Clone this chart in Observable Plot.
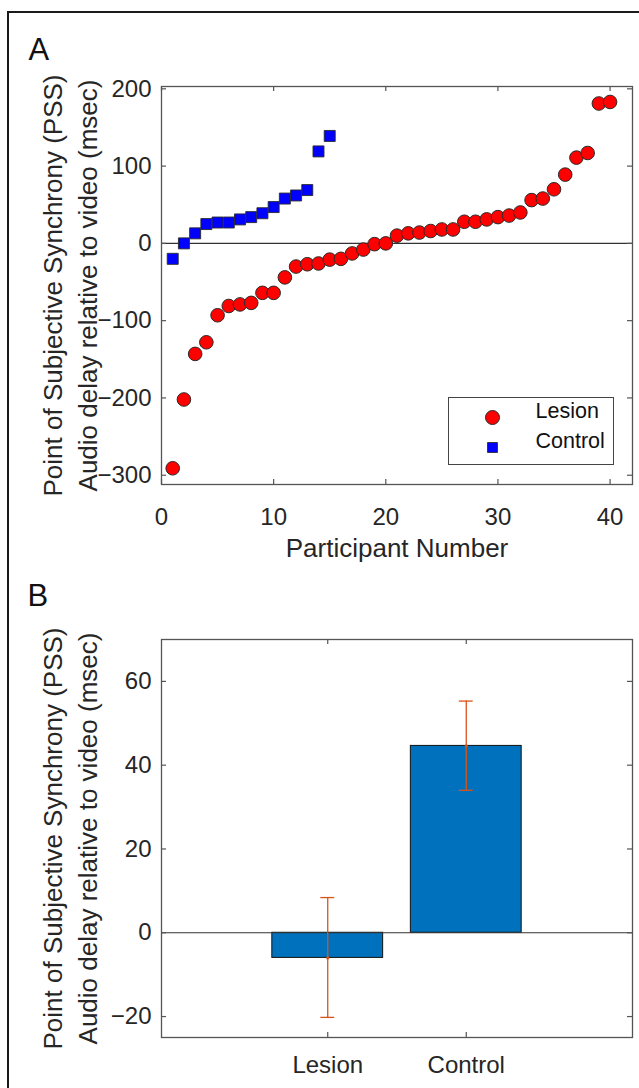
<!DOCTYPE html>
<html><head><meta charset="utf-8">
<script src="https://cdn.jsdelivr.net/npm/d3@7"></script>
<script src="https://cdn.jsdelivr.net/npm/@observablehq/plot@0.6"></script>
<style>
body{margin:0;background:#fff;width:639px;height:1088px;overflow:hidden;position:relative;font-family:"Liberation Sans",Arial,sans-serif;}
#border{position:absolute;left:7px;top:11px;width:700px;height:1200px;border-top:2px solid #1a1a1a;border-left:2px solid #1a1a1a;}
#a{position:absolute;left:0;top:0}
#b{position:absolute;left:0;top:590px}
svg{overflow:visible}
</style></head><body>
<div id="border"></div>
<div id="a"></div><div id="b"></div>
<script>
// ---- data ----
const lesionPSS = [-291, -202, -143, -128, -93, -81, -79, -77, -64, -64,
  -44, -30, -27, -26, -21, -20, -13, -8, -1, 0,
  10, 13, 14, 16, 18, 18, 28, 28, 31, 34,
  36, 40, 56, 58, 70, 89, 111, 117, 181, 183];
const controlPSS = [-20, 0, 13, 25, 27, 27, 31, 34, 39, 47, 58, 62, 69, 119, 139];
const xTicksA = [0, 10, 20, 30, 40];
const yTicksA = [-300, -200, -100, 0, 100, 200];
const seriesNames = ["Lesion", "Control"];
const groups = ["Lesion", "Control"];
const groupMeans = [-6.0, 44.6];
const groupErrLow = [-20.2, 34.0];
const groupErrHigh = [8.4, 55.3];
const yTicksB = [-20, 0, 20, 40, 60];
const yLabelLines = ["Point of Subjective Synchrony (PSS)", "Audio delay relative to video (msec)"];
const xLabelA = "Participant Number";
const panelLetters = ["A", "B"];

// ---- styling ----
const W = 639;
const axisColor = "#555";
const textColor = "#262626";
const tickLen = 5;
const mL = 161, mR = W - 632;
const font = "'Liberation Sans', Arial, Helvetica, sans-serif";

function boxTicks(xt, yt, fh, fw) {
  const s = {stroke: axisColor, strokeWidth: 1.2};
  return [
    Plot.ruleX(xt, {x: d => d, insetTop: fh - tickLen, ...s}),
    Plot.ruleX(xt, {x: d => d, insetBottom: fh - tickLen, ...s}),
    Plot.ruleY(yt, {y: d => d, insetRight: fw - tickLen, ...s}),
    Plot.ruleY(yt, {y: d => d, insetLeft: fw - tickLen, ...s})
  ];
}
function yLabels() {
  return [
    Plot.text([yLabelLines[0]], {text: d => d, frameAnchor: "left", textAnchor: "middle", rotate: -90, dx: 53 - mL, fontSize: 26, fill: textColor}),
    Plot.text([yLabelLines[1]], {text: d => d, frameAnchor: "left", textAnchor: "middle", rotate: -90, dx: 88 - mL, fontSize: 26, fill: textColor})
  ];
}

// ---- Panel A ----
const lesion = lesionPSS.map((v, i) => ({n: i + 1, v}));
const control = controlPSS.map((v, i) => ({n: i + 1, v}));
const HA = 590, mTA = 86, mBA = HA - 484;
const fhA = HA - mTA - mBA, fw = W - mL - mR;

const plotA = Plot.plot({
  width: W, height: HA,
  marginLeft: mL, marginRight: mR, marginTop: mTA, marginBottom: mBA,
  style: {fontFamily: font, fontSize: "24px", color: textColor, background: "transparent", overflow: "visible"},
  x: {domain: [0, 42]},
  y: {domain: [-312, 203]},
  marks: [
    Plot.ruleY([0], {stroke: "#333", strokeWidth: 1.1}),
    Plot.frame({stroke: axisColor, strokeWidth: 1.3}),
    ...boxTicks(xTicksA, yTicksA, fhA, fw),
    Plot.axisX({ticks: xTicksA, tickSize: 0, tickPadding: 23, label: null, fill: textColor}),
    Plot.axisY({ticks: yTicksA, tickSize: 0, tickPadding: 10, label: null, fill: textColor}),
    Plot.dot(lesion, {x: "n", y: "v", r: 6.8, fill: "#ff0000", stroke: "#2a2a2a", strokeWidth: 1}),
    Plot.dot(control, {x: "n", y: "v", r: 6.2, symbol: "square", fill: "#0000ff", stroke: "#2a2a2a", strokeWidth: 0.9}),
    Plot.text([xLabelA], {text: d => d, frameAnchor: "bottom", dy: 54, lineAnchor: "top", fontSize: 26, fill: textColor}),
    ...yLabels(),
    Plot.text([panelLetters[0]], {text: d => d, frameAnchor: "top-left", dx: 28 - mL, dy: 59 - mTA, lineAnchor: "bottom", textAnchor: "start", fontSize: 31, fill: "#111"}),
    // legend
    Plot.frame({insetLeft: 448 - mL, insetTop: 397 - mTA, insetRight: 632 - 613, insetBottom: 484 - 464, fill: "white", stroke: "#444", strokeWidth: 1}),
    Plot.dot([seriesNames[0]], {frameAnchor: "bottom-right", dx: 492 - 632, dy: 417 - 484, r: 7, fill: "#ff0000", stroke: "#2a2a2a", strokeWidth: 1}),
    Plot.dot([seriesNames[1]], {frameAnchor: "bottom-right", dx: 492 - 632, dy: 447 - 484, r: 5.6, symbol: "square", fill: "#0000ff", stroke: "#2a2a2a", strokeWidth: 0.9}),
    Plot.text([seriesNames[0]], {text: d => d, frameAnchor: "bottom-right", dx: 535 - 632, dy: 417 - 484, textAnchor: "start", fontSize: 21.5, fill: "#111"}),
    Plot.text([seriesNames[1]], {text: d => d, frameAnchor: "bottom-right", dx: 535 - 632, dy: 447 - 484, textAnchor: "start", fontSize: 21.5, fill: "#111"})
  ]
});
document.getElementById("a").appendChild(plotA);

// ---- Panel B ----
const barHalf = 0.4, capHalf = 0.05;
const bars = groups.map((g, i) => ({g, pos: i + 1, mean: groupMeans[i], lo: groupErrLow[i], hi: groupErrHigh[i]}));
const topB = 590;
const HB = 1088 - topB, mTB = 639 - topB, mBB = HB - (1037 - topB);
const fhB = HB - mTB - mBB;
const posB = groups.map((g, i) => i + 1);
const errStyle = {stroke: "#D95319", strokeWidth: 1.3};

const plotB = Plot.plot({
  width: W, height: HB,
  marginLeft: mL, marginRight: mR, marginTop: mTB, marginBottom: mBB,
  style: {fontFamily: font, fontSize: "24px", color: textColor, background: "transparent", overflow: "visible"},
  x: {domain: [-0.2, 3.2]},
  y: {domain: [-25, 70]},
  marks: [
    Plot.rect(bars, {x1: d => d.pos - barHalf, x2: d => d.pos + barHalf, y1: 0, y2: "mean", fill: "#0072BD", stroke: "#111", strokeWidth: 1}),
    Plot.ruleY([0], {stroke: "#333", strokeWidth: 1.1}),
    Plot.ruleX(bars, {x: "pos", y1: "lo", y2: "hi", ...errStyle}),
    Plot.ruleY(bars, {y: "hi", x1: d => d.pos - capHalf, x2: d => d.pos + capHalf, ...errStyle}),
    Plot.ruleY(bars, {y: "lo", x1: d => d.pos - capHalf, x2: d => d.pos + capHalf, ...errStyle}),
    Plot.dot(bars, {x: "pos", y: "mean", r: 1.6, fill: "#D95319"}),
    Plot.frame({stroke: axisColor, strokeWidth: 1.3}),
    ...boxTicks(posB, yTicksB, fhB, fw),
    Plot.axisX({ticks: posB, tickFormat: d => groups[d - 1], tickSize: 0, tickPadding: 18, label: null, fill: textColor}),
    Plot.axisY({ticks: yTicksB, tickSize: 0, tickPadding: 10, label: null, fill: textColor}),
    ...yLabels(),
    Plot.text([panelLetters[1]], {text: d => d, frameAnchor: "top-left", dx: 27 - mL, dy: 605 - topB - mTB, lineAnchor: "bottom", textAnchor: "start", fontSize: 31, fill: "#111"})
  ]
});
document.getElementById("b").appendChild(plotB);
</script>
</body></html>
